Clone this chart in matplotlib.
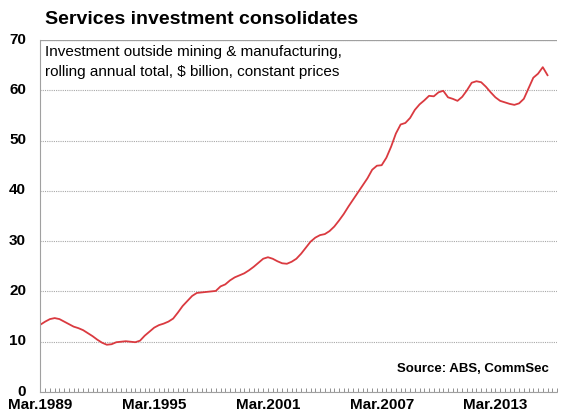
import matplotlib.pyplot as plt
import matplotlib.transforms as mtransforms
from matplotlib.ticker import MultipleLocator

plt.rcParams['font.family'] = ['Liberation Sans', 'DejaVu Sans']

# quarterly, Mar.1989 onwards, $bn rolling annual total
investment = [
    13.4, 14.0, 14.5, 14.7, 14.5, 14.0, 13.5, 13.0, 12.7, 12.3,
    11.7, 11.1, 10.4, 9.8, 9.4, 9.5, 9.9, 10.0, 10.1, 10.0,
    9.9, 10.2, 11.2, 12.0, 12.8, 13.3, 13.6, 14.0, 14.6, 15.8,
    17.1, 18.1, 19.1, 19.7, 19.8, 19.9, 20.0, 20.1, 21.0, 21.4,
    22.2, 22.8, 23.2, 23.6, 24.2, 24.9, 25.7, 26.5, 26.8, 26.5,
    26.0, 25.6, 25.5, 25.9, 26.5, 27.5, 28.7, 29.9, 30.7, 31.2,
    31.4, 32.0, 32.9, 34.1, 35.4, 36.9, 38.3, 39.7, 41.1, 42.5,
    44.2, 45.0, 45.1, 46.6, 48.8, 51.4, 53.2, 53.5, 54.5, 56.1,
    57.2, 58.0, 58.9, 58.8, 59.6, 59.9, 58.6, 58.3, 57.9, 58.7,
    60.0, 61.5, 61.8, 61.6, 60.7, 59.6, 58.6, 57.9, 57.6, 57.3,
    57.1, 57.4, 58.3, 60.4, 62.5, 63.3, 64.6, 63.0,
]
tick_pos = [0, 24, 48, 72, 96]
tick_labels = ['Mar.1989', 'Mar.1995', 'Mar.2001', 'Mar.2007', 'Mar.2013']

fig = plt.figure(figsize=(5.61, 4.12), dpi=100)
ax = fig.add_axes([40 / 561, 1 - 392 / 412, 517 / 561, 352 / 412])

ax.plot(range(len(investment)), investment, color='#DA3A40', lw=1.3)

ax.set_ylim(0, 70)
ax.set_xlim(-0.1, 109)
ax.yaxis.set_major_locator(MultipleLocator(10))
ax.grid(axis='y', color='#A8A8A8', ls=(0, (1, 1)), lw=0.8)
ax.axhline(70, color='#A0A0A0', lw=0.9)

ax.set_xticks(tick_pos)
ax.set_xticklabels(tick_labels, fontsize=11, fontweight='bold')
ax.xaxis.set_minor_locator(MultipleLocator(1))
ax.tick_params(axis='x', which='both', direction='in', color='#909090',
               length=3, width=0.7, pad=4)
ax.tick_params(axis='y', length=0, labelsize=11, pad=10)

# y labels sit a little above their gridlines
lift = mtransforms.ScaledTranslation(0, 2 / 100, fig.dpi_scale_trans)
for t in ax.get_yticklabels():
    t.set_fontweight('bold')
    t.set_transform(t.get_transform() + lift)

for side in ['top', 'right']:
    ax.spines[side].set_visible(False)
ax.spines['left'].set_color('#A0A0A0')
ax.spines['bottom'].set_color('#A0A0A0')
ax.spines['bottom'].set_linestyle((0, (1, 1)))

fig.text(45 / 561, 1 - 20 / 412, 'Services investment consolidates',
         fontsize=14, fontweight='bold', va='center', ha='left')
ax.text(0.010, 0.985,
        'Investment outside mining & manufacturing,\n'
        'rolling annual total, $ billion, constant prices',
        transform=ax.transAxes, fontsize=11, va='top', ha='left',
        linespacing=1.5)
ax.text(0.985, 0.065, 'Source: ABS, CommSec', transform=ax.transAxes,
        fontsize=9.5, fontweight='bold', ha='right', va='center')

fig.savefig('out.png', dpi=100)
